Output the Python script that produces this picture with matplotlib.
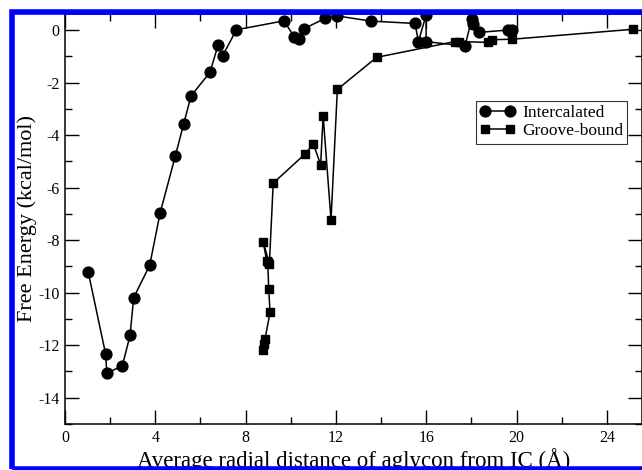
import matplotlib
matplotlib.use("Agg")
import matplotlib.pyplot as plt
from matplotlib.patches import Rectangle
from matplotlib.ticker import MultipleLocator

plt.rcParams["font.family"] = ["Liberation Serif", "DejaVu Serif"]
plt.rcParams["axes.unicode_minus"] = False

# Intercalated (circles)
inter_x = [1.03, 1.80, 1.85, 2.54, 2.88, 3.04, 3.75, 4.21, 4.89, 5.26, 5.58,
           6.42, 6.78, 6.98, 7.59, 9.70, 10.14, 10.38, 10.58, 11.51, 12.03,
           13.54, 15.50, 15.65, 15.99, 15.99, 17.71, 18.01, 18.08, 18.33,
           19.63, 19.80]
inter_y = [-9.22, -12.34, -13.07, -12.78, -11.63, -10.19, -8.96, -6.97, -4.78,
           -3.56, -2.51, -1.61, -0.57, -0.98, 0.01, 0.35, -0.25, -0.35, 0.05,
           0.44, 0.54, 0.34, 0.25, -0.44, 0.57, -0.44, -0.61, 0.41, 0.23,
           -0.09, 0.0, 0.0]

# Groove-bound (squares)
groove_x = [8.76, 8.82, 8.86, 9.08, 9.02, 8.98, 8.93, 8.78, 9.05, 9.22,
            10.63, 11.00, 11.32, 11.43, 11.78, 12.06, 13.80, 17.27, 17.46,
            18.73, 18.90, 19.81, 25.17]
groove_y = [-12.17, -11.95, -11.75, -10.75, -9.85, -8.85, -8.78, -8.08, -8.90,
            -5.83, -4.72, -4.34, -5.13, -3.26, -7.23, -2.26, -1.04, -0.44,
            -0.44, -0.47, -0.37, -0.35, 0.03]

fig = plt.figure(figsize=(6.42, 4.70), dpi=100)
ax = fig.add_axes([65 / 642, 46 / 470, 577 / 642, 410 / 470])

ax.plot(inter_x, inter_y, "-o", color="black", lw=1.1, markersize=7.8,
        label="Intercalated")
ax.plot(groove_x, groove_y, "-s", color="black", lw=1.1, markersize=6,
        label="Groove-bound")

ax.set_xlim(0, 25.55)
ax.set_ylim(-15, 0.61)
ax.xaxis.set_major_locator(MultipleLocator(4))
ax.xaxis.set_minor_locator(MultipleLocator(2))
ax.yaxis.set_major_locator(MultipleLocator(2))
ax.yaxis.set_minor_locator(MultipleLocator(1))
ax.tick_params(which="both", direction="in", top=True, right=True,
               labelsize=11.5, width=1)
ax.tick_params(which="major", length=10, pad=4)
ax.tick_params(which="minor", length=5)
for s in ax.spines.values():
    s.set_linewidth(1.1)

ax.set_xlabel("Average radial distance of aglycon from IC (Å)", fontsize=16.5,
              labelpad=2)
ax.set_ylabel("Free Energy (kcal/mol)", fontsize=16, labelpad=0.5)

leg = ax.legend(loc="upper left", bbox_to_anchor=(0.712, 0.788), numpoints=2,
                fontsize=12.5, frameon=True, fancybox=False, edgecolor="black",
                handlelength=2.0, handletextpad=0.4, borderpad=0.25,
                labelspacing=0.1, borderaxespad=0)
leg.get_frame().set_linewidth(0.8)

# blue frame around the figure
fig.patches.append(Rectangle((12 / 642, 1 / 470), 700 / 642, 457 / 470,
                             transform=fig.transFigure, fill=False,
                             edgecolor="#0000ff", linewidth=4, zorder=10))

fig.savefig("out.png", dpi=100)
